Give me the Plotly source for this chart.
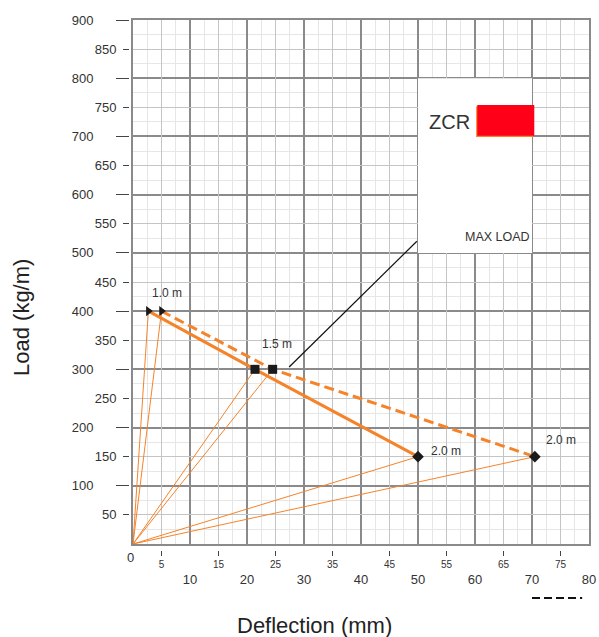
import plotly.graph_objects as go

# span labels and points (deflection mm, load kg/m)
spans = ["1.0 m", "1.5 m", "2.0 m"]
solid_x = [2.7, 21.4, 50]
solid_y = [400, 300, 150]
dashed_x = [5, 24.5, 70.5]
dashed_y = [400, 300, 150]
symbols = ["triangle-right", "square", "diamond"]

x_major = [10, 20, 30, 40, 50, 60, 70, 80]
x_mid = [5, 15, 25, 35, 45, 55, 65, 75]
y_major = [100, 200, 300, 400, 500, 600, 700, 800, 900]
y_mid = [50, 150, 250, 350, 450, 550, 650, 750, 850]

ORANGE = "#F5832A"
FONT = "Liberation Sans, Arial, sans-serif"
DARK = "#8a8a8c"
MID = "#c4c4c4"
LIGHT = "#e6e6e6"
TXT = "#333333"

W, H = 599, 637
L, R, T, B = 129, 10, 20, 87
pw, ph = W - L - R, H - T - B


def px_x(sx):
    return (sx - L) / pw


def px_y(sy):
    return (H - B - sy) / ph


fig = go.Figure()

# thin lines from the origin to every point
for px, py in list(zip(solid_x, solid_y)) + list(zip(dashed_x, dashed_y)):
    fig.add_trace(go.Scatter(x=[0, px], y=[0, py], mode="lines",
                             line=dict(color=ORANGE, width=1),
                             hoverinfo="skip", showlegend=False))

fig.add_trace(go.Scatter(x=dashed_x, y=dashed_y, mode="lines+markers",
                         line=dict(color=ORANGE, width=3, dash="10px,5px"),
                         marker=dict(symbol=symbols, size=9, color="#1a1a1a"),
                         cliponaxis=False, showlegend=False))
fig.add_trace(go.Scatter(x=solid_x, y=solid_y, mode="lines+markers",
                         line=dict(color=ORANGE, width=3),
                         marker=dict(symbol=symbols, size=9, color="#1a1a1a"),
                         cliponaxis=False, showlegend=False))

# dummy traces so the overlay axes get drawn
fig.add_trace(go.Scatter(x=[None], y=[None], xaxis="x2", yaxis="y", showlegend=False, hoverinfo="skip"))
fig.add_trace(go.Scatter(x=[None], y=[None], xaxis="x", yaxis="y2", showlegend=False, hoverinfo="skip"))
fig.add_trace(go.Scatter(x=[None], y=[None], xaxis="x", yaxis="y3", showlegend=False, hoverinfo="skip"))

# span labels
label_pts = [(dashed_x[0], dashed_y[0], 5, 18), (dashed_x[1], dashed_y[1], 4, 25),
             (solid_x[2], solid_y[2], 28, 6), (dashed_x[2], dashed_y[2], 26, 17)]
label_txt = [spans[0], spans[1], spans[2], spans[2]]
for (lx, ly, sx, sy), t in zip(label_pts, label_txt):
    fig.add_annotation(x=lx, y=ly, text=t, showarrow=False, xshift=sx, yshift=sy,
                       font=dict(family=FONT, size=12, color=TXT))

# legend box
fig.add_shape(type="rect", x0=50, x1=70, y0=500, y1=800, fillcolor="white",
              line_width=0, layer="between")
fig.add_shape(type="rect", x0=60.2, x1=70.2, y0=699, y1=752, fillcolor=ORANGE,
              line_width=0, layer="between")
fig.add_shape(type="rect", x0=60.4, x1=70.4, y0=701, y1=754, fillcolor="#FF0019",
              line_width=0, layer="between")
fig.add_annotation(x=55.6, y=725, text="ZCR", showarrow=False,
                   font=dict(family=FONT, size=20, color=TXT))
fig.add_annotation(x=63.9, y=527, text="MAX LOAD", showarrow=False,
                   font=dict(family=FONT, size=12.5, color=TXT))
fig.add_shape(type="line", x0=27.4, y0=304, x1=49.8, y1=520,
              line=dict(color="#111111", width=1.2))

# dashed key under the axis
fig.add_shape(type="line", x0=70, x1=78.8, xref="x", y0=px_y(598), y1=px_y(598),
              yref="paper", line=dict(color="#111111", width=2.2, dash="8px,4px"))

fig.add_annotation(x=0, y=0, xref="x", yref="paper", yanchor="top", text="0",
                   showarrow=False, xshift=-3, yshift=2,
                   font=dict(family=FONT, size=13, color=TXT))
fig.add_annotation(x=px_x(21), y=px_y(318), xref="paper", yref="paper", text="Load (kg/m)",
                   xanchor="center", yanchor="middle",
                   showarrow=False, textangle=-90,
                   font=dict(family=FONT, size=22, color="#222222"))
fig.add_annotation(x=px_x(314), y=px_y(625), xref="paper", yref="paper",
                   xanchor="center", yanchor="middle",
                   text="Deflection (mm)", showarrow=False,
                   font=dict(family=FONT, size=22, color="#222222"))

fig.update_layout(
    width=W, height=H,
    margin=dict(l=L, r=R, t=T, b=B, autoexpand=False),
    paper_bgcolor="white", plot_bgcolor="white",
    font=dict(family=FONT, color=TXT),
    xaxis=dict(range=[0, 80], domain=[4 / pw, 1], anchor="y", automargin=False,
               tickvals=x_major, ticks="", ticklabelstandoff=22,
               ticklabeloverflow="allow",
               tickfont=dict(size=13, color=TXT),
               showgrid=True, gridcolor=DARK, gridwidth=2,
               minor=dict(dtick=2.5, showgrid=True, gridcolor=LIGHT, gridwidth=1),
               showline=True, mirror=True, linecolor=DARK, linewidth=2,
               zeroline=False),
    xaxis2=dict(range=[0, 80], overlaying="x", anchor="free", position=0, side="bottom",
                automargin=False, ticklabeloverflow="allow",
                tickvals=x_mid, ticks="outside", ticklen=5, tickcolor="#444444",
                tickfont=dict(size=10, color=TXT),
                showgrid=True, gridcolor=MID, gridwidth=1,
                showline=False, zeroline=False),
    yaxis=dict(range=[0, 900], domain=[6 / ph, 1], anchor="x", automargin=False,
               tickvals=y_major, showticklabels=False, ticks="",
               showgrid=True, gridcolor=DARK, gridwidth=2,
               minor=dict(dtick=25, showgrid=True, gridcolor=LIGHT, gridwidth=1),
               showline=True, mirror=True, linecolor=DARK, linewidth=2,
               zeroline=False),
    yaxis2=dict(range=[0, 900], overlaying="y", anchor="free", position=0, side="left",
                automargin=False,
                tickvals=y_mid, ticks="outside", ticklen=6, tickcolor="#444444",
                tickfont=dict(size=13, color=TXT), ticklabelstandoff=4,
                showgrid=True, gridcolor=MID, gridwidth=1,
                showline=False, zeroline=False),
    yaxis3=dict(range=[0, 900], overlaying="y", anchor="free", position=0, side="left",
                automargin=False, ticklabeloverflow="allow",
                tickvals=y_major, ticks="outside", ticklen=13, tickcolor="#444444",
                tickfont=dict(size=13, color=TXT), ticklabelstandoff=20,
                showgrid=False, showline=False, zeroline=False),
)

# drop the default page margin so the figure fills the window exactly
fig.write_html("out.html", config={"displayModeBar": False},
               post_script="document.body.style.margin='0';"
                           "document.body.style.overflow='hidden';")
